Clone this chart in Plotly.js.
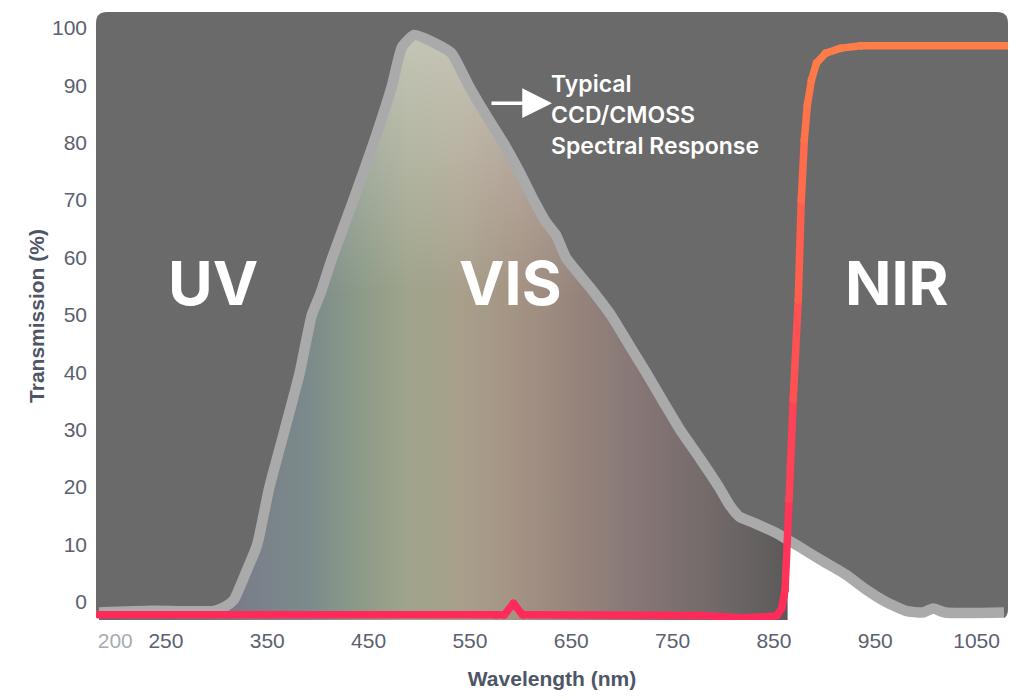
<!DOCTYPE html>
<html><head><meta charset="utf-8">
<script src="https://cdn.plot.ly/plotly-3.0.1.min.js"></script>
<style>html,body{margin:0;padding:0;background:#fff}#chart{width:1025px;height:700px}</style>
</head><body><div id="chart"></div>
<script>
// ---- data ----
const sensorWavelength = [184,236,298,310,317,328,340,352,367,382,394,402,414,435,455,473,483,495,515,532,549,566,583,599,613,625,635,645,668,689,707,724,741,758,778,796,806,816,832,852,872,896,921,941,960,980,997,1007,1019,1077];
const sensorResponse = [-1.9,-1.6,-1.6,-0.7,0.3,4.7,9.9,19.9,29.8,39.9,50.0,53.5,59.9,70.0,80.0,89.9,96.7,98.8,97.4,95.6,89.9,84.8,80.0,74.9,70.0,66.2,63.9,59.9,54.9,50.0,44.8,39.9,34.8,29.8,24.7,19.9,16.9,14.8,13.6,12.0,9.9,7.3,4.7,2.1,0.0,-1.6,-1.9,-1.2,-1.9,-1.9];
const filterWavelength = [184,576,584,593,602,778,817,847,853,858,861,865,869,874,877,880,883,887,892,901,916,936,1083];
const filterTransmission = [-2.3,-2.3,-2.3,-0.3,-2.3,-2.4,-2.8,-2.6,-2.4,-1.0,2.1,17.8,35.2,52.6,70.0,80.5,86.6,90.9,93.9,95.6,96.5,96.9,96.9];
const xTickValues = [200,250,350,450,550,650,750,850,950,1050];
const xTickLabels = ['200','250','350','450','550','650','750','850','950','1050'];
const yTickValues = [0,10,20,30,40,50,60,70,80,90,100];
const regionNames = ['UV','VIS','NIR'];
const calloutLines = ['Typical','CCD/CMOSS','Spectral Response'];

// ---- styling / layout ----
const X_RANGE = [181, 1081];
const Y_RANGE = [-3.2, 102.8];
const TICK_FONT = {family:'"Liberation Sans", Arial, sans-serif', size:21, color:'#5b6170'};
const TITLE_FONT = {family:'"Liberation Sans", Arial, sans-serif', size:21, color:'#4d5566'};
const LABEL_FONT = 'Inter, "Noto Sans", sans-serif';

const xs0 = sensorWavelength[0], xsN = sensorWavelength[sensorWavelength.length-1];
function frac(nm){ return Math.max(0, Math.min(1, (nm - xs0)/(xsN - xs0))); }
const spectrumStops = [
  [184,'#6a6a6a'],[300,'#73767f'],[330,'#7a7f8a'],[390,'#7b8a8b'],[440,'#8c9a89'],
  [490,'#a0a48b'],[540,'#a8a08b'],[600,'#a39283'],[660,'#95837b'],[720,'#857675'],
  [780,'#756b6b'],[840,'#635f5f'],[863,'#5b5959'],[864,'#ffffff'],[1077,'#ffffff']
].map(s => [frac(s[0]), s[1]]);

const baseline = {x:[xs0, xsN], y:[Y_RANGE[0], Y_RANGE[0]], mode:'lines', line:{width:0}, hoverinfo:'skip', showlegend:false};
const traces = [];
traces.push(Object.assign({}, baseline));
traces.push({x:sensorWavelength, y:sensorResponse, mode:'lines', line:{width:0, shape:'spline', smoothing:0.5},
  fill:'tonexty', fillcolor:'#8a8a8a',
  fillgradient:{type:'horizontal', start:xs0, stop:xsN, colorscale:spectrumStops},
  hoverinfo:'skip', showlegend:false});
traces.push(Object.assign({}, baseline));
traces.push({x:sensorWavelength, y:sensorResponse, mode:'lines', line:{width:0, shape:'spline', smoothing:0.5},
  fill:'tonexty', fillcolor:'rgba(255,255,255,0)',
  fillgradient:{type:'vertical', start:Y_RANGE[0], stop:100, colorscale:[[0,'rgba(255,255,255,0)'],[0.55,'rgba(255,255,255,0)'],[1,'rgba(255,255,255,0.38)']]},
  hoverinfo:'skip', showlegend:false});
traces.push({x:sensorWavelength, y:sensorResponse, mode:'lines', name:'Typical CCD/CMOSS Spectral Response',
  line:{color:'#aaaaaa', width:10.5, shape:'spline', smoothing:0.5}, showlegend:false});

// filter curve, coloured from pink-red (bottom) to orange (top)
function mix(t){
  const a=[255,42,90], b=[255,125,72];
  const c=a.map((v,i)=>Math.round(v+(b[i]-v)*t));
  return 'rgb('+c.join(',')+')';
}
for(let i=0;i<filterWavelength.length-1;i++){
  const avg=(filterTransmission[i]+filterTransmission[i+1])/2;
  const t=Math.max(0,Math.min(1,(avg+2.5)/99.5));
  const col=mix(t);
  traces.push({x:filterWavelength.slice(i,i+2), y:filterTransmission.slice(i,i+2), mode:'lines+markers',
    line:{color:col, width:7.5}, marker:{color:col, size:7.5}, hoverinfo:'skip', showlegend:false});
}

// rounded plot background
const plotW = 1025-96-17, plotH = 700-12-80, r = 11;
const rx = r/plotW, ry = r/plotH;
const bgPath = `M ${rx},0 L ${1-rx},0 Q 1,0 1,${ry} L 1,${1-ry} Q 1,1 ${1-rx},1 L ${rx},1 Q 0,1 0,${1-ry} L 0,${ry} Q 0,0 ${rx},0 Z`;

const annotations = [];
const regionX = [296.5, 590.5, 971.5];
regionNames.forEach((n,i)=>annotations.push({x:regionX[i], y:55.6, xref:'x', yref:'y', text:n, showarrow:false,
  font:{family:LABEL_FONT, size:61, color:'#ffffff', weight:700}, xanchor:'center', yanchor:'middle'}));
const calloutY = [90.25, 84.85, 79.45];
calloutLines.forEach((t,i)=>annotations.push({x:628.5, y:calloutY[i], xref:'x', yref:'y', text:t, showarrow:false,
  font:{family:LABEL_FONT, size:23, color:'#ffffff', weight:600}, xanchor:'left', yanchor:'middle'}));
annotations.push({x:631, y:86.9, xref:'x', yref:'y', axref:'x', ayref:'y', ax:569.8, ay:86.9, text:'', showarrow:true,
  arrowcolor:'#ffffff', arrowwidth:3.5, arrowhead:2, arrowsize:1.7, standoff:0, startstandoff:0});

const tickText = xTickLabels.map((t,i)=> i===0 ? '<span style="color:#a9abb0">'+t+'</span>' : t);

const layout = {
  width:1025, height:700,
  margin:{l:96, r:17, t:12, b:80, pad:0},
  paper_bgcolor:'#ffffff', plot_bgcolor:'rgba(0,0,0,0)',
  showlegend:false,
  xaxis:{range:X_RANGE, tickmode:'array', tickvals:xTickValues, ticktext:tickText, showgrid:false, zeroline:false,
    showline:false, ticks:'', tickfont:TICK_FONT, ticklabelstandoff:6,
    title:{text:'<b>Wavelength (nm)</b>', font:TITLE_FONT, standoff:20}},
  yaxis:{range:Y_RANGE, tickmode:'array', tickvals:yTickValues, showgrid:false, zeroline:false, showline:false,
    ticks:'', tickfont:TICK_FONT, ticklabelstandoff:8,
    title:{text:'<b>Transmission (%)</b>', font:TITLE_FONT, standoff:1}},
  shapes:[{type:'path', xref:'paper', yref:'paper', path:bgPath, fillcolor:'#6a6a6a', line:{width:0}, layer:'below'}],
  annotations:annotations
};
Plotly.newPlot('chart', traces, layout, {displayModeBar:false, staticPlot:true});
</script>
</body></html>
